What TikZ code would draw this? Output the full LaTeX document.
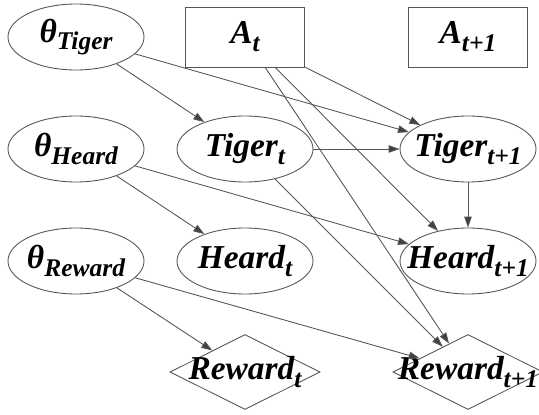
\documentclass[tikz,border=0pt]{standalone}
\usepackage{fontspec}
\setmainfont{Liberation Serif}
\usepackage{tikz}
\usetikzlibrary{shapes.geometric, arrows.meta, positioning}
\definecolor{EdgeGray}{HTML}{555555}
\definecolor{TipGray}{HTML}{404040}
\newcommand{\lbl}[1]{\makebox[0pt]{#1}}
\newcommand{\subtxt}[1]{\raisebox{-4.5pt}{\fontsize{14.5}{15}\selectfont #1}}
\tikzset{
    varnode/.style={ellipse, draw=EdgeGray, line width=0.5pt,
          minimum width=2.72cm, minimum height=1.32cm, inner sep=0pt,
          font={\fontsize{19}{21}\selectfont\bfseries\itshape}},
    actnode/.style={rectangle, draw=EdgeGray, line width=0.5pt,
          minimum width=2.38cm, minimum height=1.2cm, inner sep=0pt,
          font={\fontsize{19}{21}\selectfont\bfseries\itshape}},
    rewardnode/.style={diamond, draw=EdgeGray, line width=0.5pt,
          minimum width=3cm, minimum height=1.5cm, inner sep=0pt,
          font={\fontsize{19}{21}\selectfont\bfseries\itshape}},
    dep/.style={draw=EdgeGray, line width=0.5pt,
          -{Triangle[length=0.22cm, width=0.15cm, fill=TipGray]}}
}

\begin{document}
\begin{tikzpicture}
    \useasboundingbox (0,0) rectangle (10.78,8.28);

    % Parameters
    \node[varnode] (thtiger) at (1.52,7.54) {\lbl{θ\subtxt{Tiger}}};
    \node[varnode] (thheard) at (1.52,5.30) {\lbl{θ\subtxt{Heard}}};
    \node[varnode] (threward) at (1.52,3.06) {\lbl{θ\subtxt{Reward}}};

    % Actions
    \node[actnode] (act) at (4.90,7.54) {\lbl{A\subtxt{t}}};
    \node[actnode] (actnext) at (9.36,7.54) {\lbl{A\subtxt{t+1}}};

    % Slice t
    \node[varnode] (tiger) at (4.90,5.30) {\lbl{Tiger\subtxt{t}}};
    \node[varnode] (heard) at (4.90,3.06) {\lbl{Heard\subtxt{t}}};
    \node[rewardnode] (reward) at (4.90,0.84) {\lbl{Reward\subtxt{t}}};

    % Slice t+1
    \node[varnode] (tigernext) at (9.36,5.30) {\lbl{Tiger\subtxt{t+1}}};
    \node[varnode] (heardnext) at (9.36,3.06) {\lbl{Heard\subtxt{t+1}}};
    \node[rewardnode] (rewardnext) at (9.36,0.84) {\lbl{Reward\subtxt{t+1}}};

    % Dependencies
    \draw[dep] (thtiger) -- (tiger);
    \draw[dep] (thtiger) -- (tigernext);
    \draw[dep] (thheard) -- (heard);
    \draw[dep] (thheard) -- (heardnext);
    \draw[dep] (threward) -- (reward);
    \draw[dep] (threward) -- (rewardnext);
    \draw[dep] (act) -- (tigernext);
    \draw[dep] (act) -- (heardnext);
    \draw[dep] (act) -- (rewardnext);
    \draw[dep] (tiger) -- (tigernext);
    \draw[dep] (tiger) -- (rewardnext);
    \draw[dep] (tigernext) -- (heardnext);
\end{tikzpicture}
\end{document}
